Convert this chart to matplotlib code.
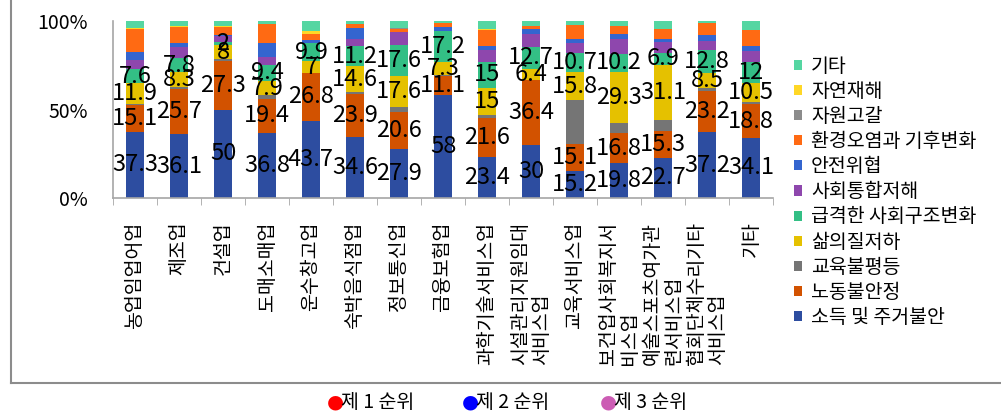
import matplotlib
matplotlib.use("Agg")
import matplotlib.pyplot as plt
from matplotlib.patches import Patch
from matplotlib.lines import Line2D
import numpy as np

plt.rcParams['font.family'] = ['Noto Sans CJK KR', 'DejaVu Sans']

# 업종 (x축)
industries = ["농업임업어업", "제조업", "건설업", "도매소매업", "운수창고업",
              "숙박음식점업", "정보통신업", "금융보험업", "과학기술서비스업",
              "시설관리지원임대\n서비스업", "교육서비스업", "보건업사회복지서\n비스업",
              "예술스포츠여가관\n련서비스업", "협회단체수리기타\n서비스업", "기타"]

# 항목별 비율 (%)
income = [37.3, 36.1, 50, 36.8, 43.7, 34.6, 27.9, 58, 23.4, 30, 15.2, 19.8, 22.7, 37.2, 34.1]
labor = [15.1, 25.7, 27.3, 19.4, 26.8, 23.9, 20.6, 11.1, 21.6, 36.4, 15.1, 16.8, 15.3, 23.2, 18.8]
education = [0.8, 1.1, 1.1, 1.9, 0, 1.3, 3.0, 0.5, 2.0, 0, 25.0, 5.5, 6.0, 1.9, 1.5]
life = [11.9, 8.3, 8, 7.9, 7, 14.6, 17.6, 7.3, 15, 6.4, 15.8, 29.3, 31.1, 8.5, 10.5]
rapid = [7.6, 7.8, 2, 9.4, 9.9, 11.2, 17.6, 17.2, 15, 12.7, 10.7, 10.2, 6.9, 12.8, 12]
cohesion = [5.0, 6.2, 3.4, 4.2, 0, 4.0, 7.1, 0, 6.8, 7.2, 5.5, 8.1, 6.2, 5.3, 6.2]
safety = [5.0, 2.3, 0.5, 7.9, 2.1, 6.2, 0, 2.3, 2.3, 2.8, 2.3, 2.8, 1.5, 3.2, 2.8]
environment = [12.5, 9.0, 4.5, 10.8, 3.0, 2.6, 1.5, 2.3, 8.7, 1.7, 7.9, 4.5, 6.0, 6.8, 9.0]
resource = [0, 0, 0, 0, 0, 0, 0.9, 0, 0, 0, 0, 0, 0, 0, 0]
disaster = [1.0, 0.4, 0.5, 0, 1.7, 0, 0, 0, 0.5, 0, 0, 0, 0, 0, 0]
other = [3.8, 3.1, 2.7, 1.7, 5.8, 1.6, 3.8, 1.3, 4.7, 2.8, 2.5, 3.0, 4.3, 1.1, 5.1]

series = [
    ("소득 및 주거불안", income, "#2d4da0", True),
    ("노동불안정", labor, "#d25200", True),
    ("교육불평등", education, "#757575", False),
    ("삶의질저하", life, "#e5c100", True),
    ("급격한 사회구조변화", rapid, "#33bf85", True),
    ("사회통합저해", cohesion, "#8e47ad", False),
    ("안전위협", safety, "#3465cf", False),
    ("환경오염과 기후변화", environment, "#ff6a13", False),
    ("자원고갈", resource, "#8c8c8c", False),
    ("자연재해", disaster, "#ffd726", False),
    ("기타", other, "#55d6a2", False),
]

fig = plt.figure(figsize=(10.01, 4.13), dpi=100)
ax = fig.add_axes([113 / 1001, 1 - 198 / 413, 660 / 1001, 177 / 413])

x = np.arange(len(industries))
bottom = np.zeros(len(industries))
handles = []
for name, vals, color, show in series:
    vals = np.array(vals, dtype=float)
    bars = ax.bar(x, vals, 0.4, bottom=bottom, color=color, linewidth=0)
    if show:
        ax.bar_label(bars, labels=[f"{v:g}" for v in vals], label_type='center',
                     fontsize=17, color='black')
    bottom += vals
    handles.append(Patch(facecolor=color, label=name))

ax.set_xlim(-0.5, len(industries) - 0.5)
ax.set_ylim(0, 100)
ax.set_yticks([0, 50, 100])
ax.set_yticklabels(["0%", "50%", "100%"], fontsize=14)
ax.tick_params(axis='y', length=0, pad=18)

ax.set_xticks(x)
ax.set_xticklabels(industries, rotation=90, va='top', ha='center',
                   multialignment='left', fontsize=14, linespacing=1.0)
ax.set_xticks(np.arange(-0.5, len(industries)), minor=True)
ax.tick_params(axis='x', which='major', length=0, pad=17)
ax.tick_params(axis='x', which='minor', length=5, color='#a6a6a6')

for s in ['top', 'right']:
    ax.spines[s].set_visible(False)
for s in ['left', 'bottom']:
    ax.spines[s].set_color('#a6a6a6')
    ax.spines[s].set_linewidth(1.2)

leg = ax.legend(handles=handles[::-1], loc='upper left',
                bbox_to_anchor=(794 / 1001, 1 - 56 / 413),
                bbox_transform=fig.transFigure, frameon=False, fontsize=14,
                handlelength=0.42, handleheight=0.42, handletextpad=0.45,
                labelspacing=0.21, borderaxespad=0, borderpad=0)

# 차트 테두리
fig.add_artist(Line2D([11 / 1001, 11 / 1001], [1 - 383 / 413, 1.0],
                      transform=fig.transFigure, color='#8c8c8c', lw=1.5))
fig.add_artist(Line2D([11 / 1001, 1.0], [1 - 383 / 413, 1 - 383 / 413],
                      transform=fig.transFigure, color='#8c8c8c', lw=1.5))

# 하단 순위 범례
ranks = [("제 1 순위", "#ff0000", 327), ("제 2 순위", "#0000ff", 462),
         ("제 3 순위", "#cc5cb4", 600)]
for txt, c, px in ranks:
    fig.text(px / 1001, 1 - 402 / 413, "●", color=c, fontsize=14,
             va='center', ha='left', family='DejaVu Sans')
    fig.text((px + 14) / 1001, 1 - 402 / 413, txt, color='black', fontsize=14,
             va='center', ha='left')

fig.savefig("out.png", dpi=100)
